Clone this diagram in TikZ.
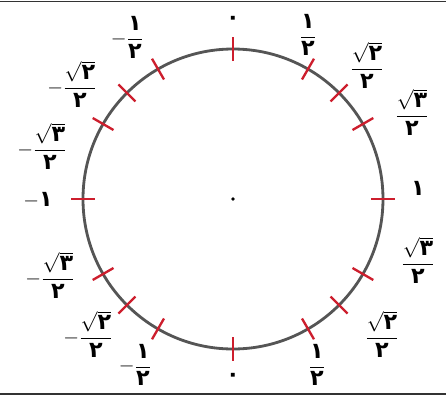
\documentclass[tikz,border=0pt]{standalone}
\usepackage{amsmath}
\usepackage{fontspec}
\usepackage{tikz}
\usetikzlibrary{positioning}
\newfontfamily\farsifont[Script=Arabic]{DejaVu Sans}
\definecolor{circlegray}{RGB}{85, 85, 85}
\definecolor{tickred}{RGB}{205, 30, 45}
\newcommand{\fd}[1]{\mbox{\farsifont\bfseries #1}}
\newcommand{\fdfrac}[2]{$\dfrac{#1}{#2}$}
\tikzset{
  rim/.style={draw=circlegray, line width=2.4pt},
  tickmark/.style={draw=tickred, line width=2pt},
  lbl/.style={font=\fontsize{19}{23}\selectfont, inner sep=0pt, align=center},
  frameline/.style={draw=black!80, line width=1.2pt},
}

\begin{document}
\begin{tikzpicture}
  \useasboundingbox (-6.99,-5.94) rectangle (6.39,5.97);
  \draw[frameline] (-6.99,5.93) -- (6.39,5.93);
  \draw[frameline] (-6.99,-5.85) -- (6.39,-5.85);

  \node[circle, rim, minimum size=9cm, inner sep=0pt] (unit) at (0,0) {};
  \fill[black] (unit.center) circle (1.6pt);

  % marks on the circle
  \foreach \a in {90, 60, 45, 30, 0, -30, -45, -60, -90, 120, 135, 150, 180, 210, 225, 240}
    \draw[tickmark] (\a:4.14) -- (\a:4.86);

  % right half
  \node[lbl] (top0) at (0,5.37) {\fd{۰}};
  \node[lbl] (c60) at (2.25,4.92) {\fdfrac{\fd{۱}}{\fd{۲}}};
  \node[lbl] (c45) at (4.02,4.02) {\fdfrac{\sqrt{\fd{۲}}}{\fd{۲}}};
  \node[lbl] (c30) at (5.37,2.61) {\fdfrac{\sqrt{\fd{۳}}}{\fd{۲}}};
  \node[lbl] (c0) at (5.55,0.33) {\fd{۱}};
  \node[lbl] (cm30) at (5.55,-1.83) {\fdfrac{\sqrt{\fd{۳}}}{\fd{۲}}};
  \node[lbl] (cm45) at (4.47,-4.05) {\fdfrac{\sqrt{\fd{۲}}}{\fd{۲}}};
  \node[lbl] (cm60) at (2.52,-4.98) {\fdfrac{\fd{۱}}{\fd{۲}}};
  \node[lbl] (bot0) at (0,-5.34) {\fd{۰}};

  % left half
  \node[lbl] (c120) at (-3.18,4.85) {$-\dfrac{\fd{۱}}{\fd{۲}}$};
  \node[lbl] (c135) at (-4.83,3.45) {$-\dfrac{\sqrt{\fd{۲}}}{\fd{۲}}$};
  \node[lbl] (c150) at (-5.73,1.58) {$-\dfrac{\sqrt{\fd{۳}}}{\fd{۲}}$};
  \node[lbl] (c180) at (-5.85,-0.03) {$-\fd{۱}$};
  \node[lbl] (c210) at (-5.49,-2.28) {$-\dfrac{\sqrt{\fd{۳}}}{\fd{۲}}$};
  \node[lbl] (c225) at (-4.35,-4.05) {$-\dfrac{\sqrt{\fd{۲}}}{\fd{۲}}$};
  \node[lbl] (c240) at (-2.94,-4.98) {$-\dfrac{\fd{۱}}{\fd{۲}}$};
\end{tikzpicture}
\end{document}
